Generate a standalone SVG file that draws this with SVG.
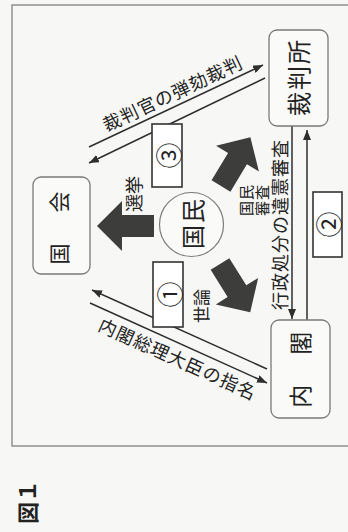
<svg xmlns="http://www.w3.org/2000/svg" width="348" height="532" viewBox="0 0 348 532">
<defs>
<style>
.t{font-family:"Noto Sans CJK JP","Noto Sans CJK SC",sans-serif;fill:#222;}
.node{fill:#fafaf8;stroke:#7a7a7a;stroke-width:1.3;}
.lbl{fill:#fff;stroke:#333;stroke-width:1.6;}
.ln{stroke:#2e2e2e;stroke-width:1.5;fill:none;}
.big{fill:#3d3d3b;}
</style>
<marker id="ah" markerUnits="userSpaceOnUse" markerWidth="10" markerHeight="8" refX="10" refY="4" orient="auto">
<path d="M0,0 L10,4 L0,8 z" fill="#2e2e2e"/>
</marker>
<path id="blk" d="M0,-11 L32,-11 L32,-25 L57,0 L32,25 L32,11 L0,11 Z"/>
</defs>
<rect x="0" y="0" width="348" height="532" fill="#f7f7f5"/>
<g transform="translate(0,532) rotate(-90)">
<rect x="86" y="12" width="441" height="400" fill="none" stroke="#8a8a8a" stroke-width="1.4"/>
<text class="t" x="8" y="35.5" font-size="22" font-weight="bold">図１</text>

<g id="connectors">
<line class="ln" x1="385" y1="89" x2="467" y2="263" marker-end="url(#ah)"/>
<line class="ln" x1="454" y1="265" x2="369" y2="89" marker-end="url(#ah)"/>
<line class="ln" x1="163" y1="267" x2="242" y2="92" marker-end="url(#ah)"/>
<line class="ln" x1="229" y1="90" x2="149" y2="267" marker-end="url(#ah)"/>
<line class="ln" x1="406" y1="292" x2="213" y2="292" marker-end="url(#ah)"/>
<line class="ln" x1="212" y1="307" x2="402" y2="307" marker-end="url(#ah)"/>
<use href="#blk" class="big" transform="translate(306,154) rotate(-90)"/>
<use href="#blk" class="big" transform="translate(346,221) rotate(31)"/>
<use href="#blk" class="big" transform="translate(268,220) rotate(148)"/>
<text class="t" font-size="18" letter-spacing="1" transform="translate(400,106.8) rotate(64.8)">裁判官の弾劾裁判</text>
<text class="t" font-size="18" letter-spacing="1" transform="translate(201.9,97) rotate(114.3)">内閣総理大臣の指名</text>
<text class="t" font-size="18" letter-spacing="1" x="222" y="287">行政処分の違憲審査</text>
<text class="t" font-size="18" x="320" y="141">選挙</text>
<text class="t" font-size="17" x="209" y="208">世論</text>
<text class="t" font-size="15" letter-spacing="1" x="316" y="252">国民</text>
<text class="t" font-size="15" letter-spacing="1" x="316" y="268">審査</text>
</g>

<g id="box3">
<rect class="lbl" x="345" y="152" width="63" height="30"/>
<text class="t" x="376.5" y="167" font-size="26" text-anchor="middle" dominant-baseline="central">③</text>
</g>
<g id="box1">
<rect class="lbl" x="205" y="153" width="65" height="30"/>
<text class="t" x="237.5" y="168" font-size="26" text-anchor="middle" dominant-baseline="central">①</text>
</g>
<g id="box2">
<rect class="lbl" x="275" y="313" width="65" height="29"/>
<text class="t" x="307.5" y="327.5" font-size="26" text-anchor="middle" dominant-baseline="central">②</text>
</g>

<g id="kokkai">
<rect class="node" x="258" y="33" width="97" height="57" rx="8"/>
<text class="t" x="306.5" y="66.5" font-size="21" letter-spacing="5" text-anchor="middle">国　会</text>
</g>
<g id="naikaku">
<rect class="node" x="114" y="271" width="98" height="59" rx="8"/>
<text class="t" x="164" y="308.5" font-size="23" letter-spacing="3.5" text-anchor="middle">内　閣</text>
</g>
<g id="saibansho">
<rect class="node" x="406" y="269" width="96" height="59" rx="8"/>
<text class="t" x="455" y="308" font-size="24" letter-spacing="2" text-anchor="middle">裁判所</text>
</g>
<g id="kokumin">
<circle cx="307.5" cy="191.5" r="32" fill="#fafaf8" stroke="#7a7a7a" stroke-width="1.2"/>
<text class="t" x="309" y="202" font-size="24" letter-spacing="2" text-anchor="middle">国民</text>
</g>
</g>
</svg>
